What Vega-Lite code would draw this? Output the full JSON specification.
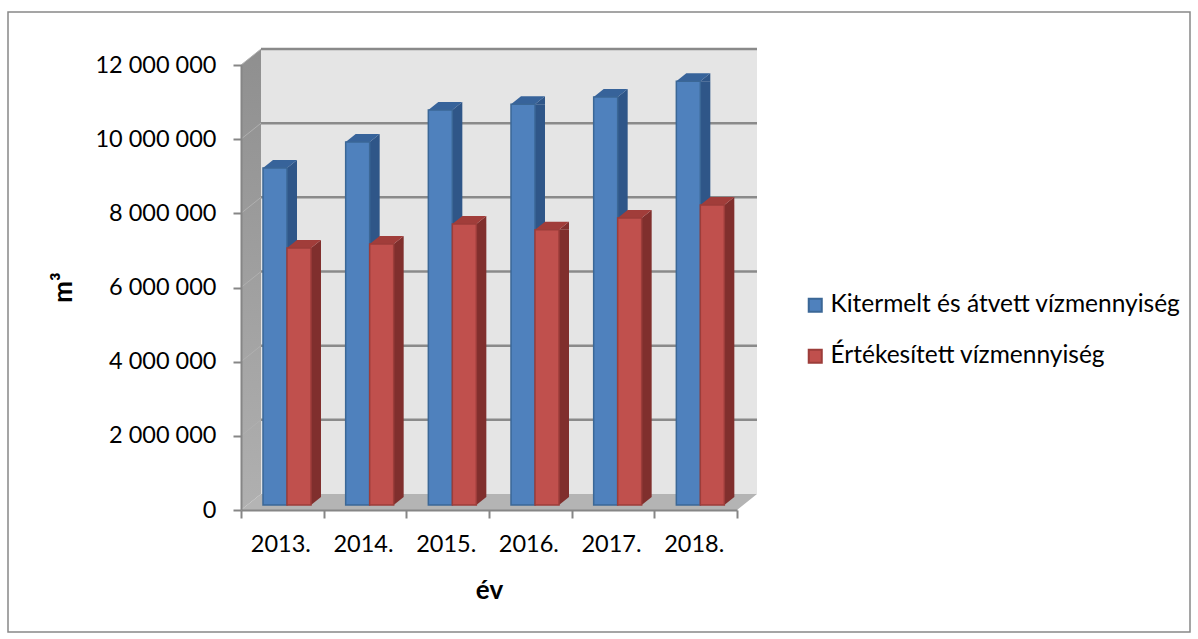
{"$schema":"https://vega.github.io/schema/vega-lite/v6.json","autosize":"none","width":496,"height":445,"padding":{"left":241,"top":65,"right":461,"bottom":129},"background":"white","config":{"view":{"stroke":null},"font":"Lato"},"datasets":{"rows":[{"year":"2013.","series":"Kitermelt és átvett vízmennyiség","value":9090000},{"year":"2014.","series":"Kitermelt és átvett vízmennyiség","value":9790000},{"year":"2015.","series":"Kitermelt és átvett vízmennyiség","value":10650000},{"year":"2016.","series":"Kitermelt és átvett vízmennyiség","value":10810000},{"year":"2017.","series":"Kitermelt és átvett vízmennyiség","value":11000000},{"year":"2018.","series":"Kitermelt és átvett vízmennyiség","value":11430000},{"year":"2013.","series":"Értékesített vízmennyiség","value":6930000},{"year":"2014.","series":"Értékesített vízmennyiség","value":7040000},{"year":"2015.","series":"Értékesített vízmennyiség","value":7580000},{"year":"2016.","series":"Értékesített vízmennyiség","value":7420000},{"year":"2017.","series":"Értékesített vízmennyiség","value":7740000},{"year":"2018.","series":"Értékesített vízmennyiség","value":8090000}],"ticks":[{"tick":2000000},{"tick":4000000},{"tick":6000000},{"tick":8000000},{"tick":10000000},{"tick":12000000}],"anchor":[{"year":"2013.","tick":0}]},"encoding":{"x":{"field":"year","type":"nominal","scale":{"domain":["2013.","2014.","2015.","2016.","2017.","2018."],"paddingInner":0,"paddingOuter":0},"axis":{"title":"év","titleFontSize":26,"titleFontWeight":"bold","titleColor":"black","titlePadding":22,"labelFontSize":23.5,"labelColor":"black","labelAngle":0,"labelPadding":14,"labelOffset":-2,"tickBand":"extent","tickSize":8,"tickColor":"#868686","tickWidth":2,"domainColor":"#868686","domainWidth":2,"zindex":1}},"y":{"field":"value","type":"quantitative","stack":null,"scale":{"domain":[0,12000000],"nice":false},"axis":{"title":"m³","titleFontSize":26,"titleFontWeight":"bold","titleColor":"black","titleX":-165,"titleY":222,"labelFontSize":23.5,"labelColor":"black","labelPadding":17,"labelExpr":"replace(format(datum.value, ','), /,/g, ' ')","values":[0,2000000,4000000,6000000,8000000,10000000,12000000],"grid":false,"tickSize":8,"tickColor":"#868686","tickWidth":2,"domainColor":"#868686","domainWidth":2,"zindex":1}}},"layer":[{"data":{"name":"anchor"},"mark":{"type":"point","size":4,"filled":false,"opacity":1,"stroke":"#888888","strokeWidth":1.5,"shape":"M-274.33,-498L907.67,-498L907.67,122L-274.33,122Z"},"encoding":{"y":{"field":"tick","type":"quantitative"}}},{"data":{"name":"anchor"},"mark":{"type":"point","size":4,"filled":true,"opacity":1,"fill":"#e5e5e5","shape":"M-21.33,-16L474.67,-16L474.67,-461L-21.33,-461Z"},"encoding":{"y":{"field":"tick","type":"quantitative"}}},{"data":{"name":"anchor"},"mark":{"type":"point","size":4,"filled":true,"opacity":1,"fill":{"gradient":"linear","x1":0,"y1":0,"x2":0,"y2":1,"stops":[{"offset":0,"color":"#8f8f8f"},{"offset":1,"color":"#b0b0b0"}]},"shape":"M-41.33,0L-21.33,-16L-21.33,-461L-41.33,-445Z"},"encoding":{"y":{"field":"tick","type":"quantitative"}}},{"data":{"name":"anchor"},"mark":{"type":"point","size":4,"filled":true,"opacity":1,"fill":"#b4b4b4","shape":"M-41.33,0L454.67,0L474.67,-16L-21.33,-16Z"},"encoding":{"y":{"field":"tick","type":"quantitative"}}},{"data":{"name":"ticks"},"mark":{"type":"point","size":4,"filled":false,"opacity":1,"stroke":"#b0b0b0","strokeWidth":1,"shape":"M-41.33,0L-21.33,-16"},"encoding":{"x":{"datum":"2013."},"y":{"field":"tick","type":"quantitative"}}},{"data":{"name":"ticks"},"mark":{"type":"point","size":4,"filled":false,"opacity":1,"stroke":"#8a8a8a","strokeWidth":2.5,"shape":"M-21.33,-16L474.67,-16"},"encoding":{"x":{"datum":"2013."},"y":{"field":"tick","type":"quantitative"}}},{"data":{"name":"rows"},"transform":[{"filter":"datum.series === 'Kitermelt és átvett vízmennyiség'"}],"layer":[{"mark":{"type":"bar","width":10,"xOffset":9.67,"yOffset":-5,"y2Offset":-13,"fill":"#2f5688"},"encoding":{"y2":{"datum":0}}},{"mark":{"type":"point","size":4,"filled":true,"opacity":1,"fill":"#2f5688","yOffset":-5,"shape":"M4.67,0L14.67,-8L14.67,0Z"}},{"mark":{"type":"point","size":4,"filled":true,"opacity":1,"fill":"#37639a","yOffset":-5,"shape":"M-19.33,0L4.67,0L14.67,-8L-9.33,-8Z"}},{"mark":{"type":"bar","width":24,"xOffset":-7.33,"yOffset":-5,"y2Offset":-5,"strokeWidth":1.5},"encoding":{"y2":{"datum":0},"fill":{"field":"series","type":"nominal","scale":{"domain":["Kitermelt és átvett vízmennyiség","Értékesített vízmennyiség"],"range":["#4f81bd","#c0504d"]},"legend":{"title":null,"orient":"none","legendX":562,"legendY":228,"symbolType":"square","symbolSize":170,"symbolStrokeWidth":2,"labelFontSize":24.5,"labelColor":"black","labelOffset":3,"labelLimit":500,"rowPadding":26,"labelFont":"Lato"}},"stroke":{"field":"series","type":"nominal","scale":{"domain":["Kitermelt és átvett vízmennyiség","Értékesített vízmennyiség"],"range":["#3b6796","#9c3d3a"]},"legend":{"title":null,"orient":"none","legendX":562,"legendY":228,"symbolType":"square","symbolSize":170,"symbolStrokeWidth":2,"labelFontSize":24.5,"labelColor":"black","labelOffset":3,"labelLimit":500,"rowPadding":26,"labelFont":"Lato"}}}}]},{"data":{"name":"rows"},"transform":[{"filter":"datum.series === 'Értékesített vízmennyiség'"}],"layer":[{"mark":{"type":"bar","width":10,"xOffset":33.67,"yOffset":-5,"y2Offset":-13,"fill":"#802f2d"},"encoding":{"y2":{"datum":0}}},{"mark":{"type":"point","size":4,"filled":true,"opacity":1,"fill":"#802f2d","yOffset":-5,"shape":"M28.67,0L38.67,-8L38.67,0Z"}},{"mark":{"type":"point","size":4,"filled":true,"opacity":1,"fill":"#802f2d","yOffset":-5,"shape":"M28.67,0L38.67,-8L28.67,-8Z"},"encoding":{"y":{"datum":0}}},{"mark":{"type":"point","size":4,"filled":true,"opacity":1,"fill":"#a13d3a","yOffset":-5,"shape":"M4.67,0L28.67,0L38.67,-8L14.67,-8Z"}},{"mark":{"type":"bar","width":24,"xOffset":16.67,"yOffset":-5,"y2Offset":-5,"strokeWidth":1.5},"encoding":{"y2":{"datum":0},"fill":{"field":"series","type":"nominal"},"stroke":{"field":"series","type":"nominal"}}}]}]}
